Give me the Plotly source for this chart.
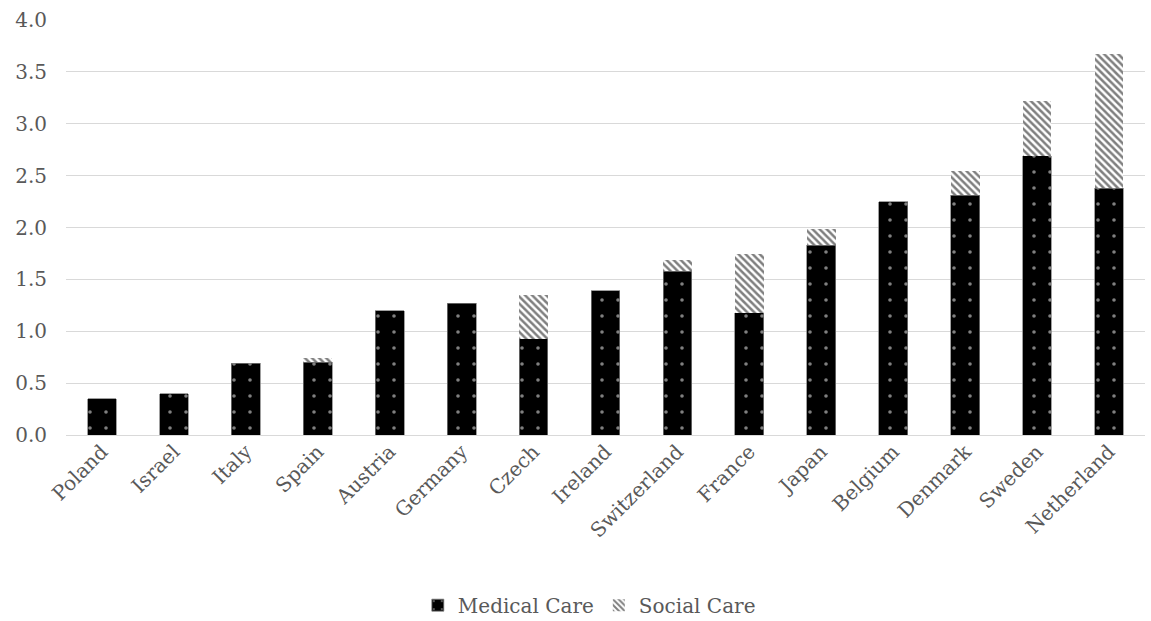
import plotly.graph_objects as go

countries = ["Poland", "Israel", "Italy", "Spain", "Austria", "Germany", "Czech", "Ireland",
             "Switzerland", "France", "Japan", "Belgium", "Denmark", "Sweden", "Netherland"]
medical_care = [0.35, 0.40, 0.69, 0.70, 1.20, 1.27, 0.93, 1.39, 1.58, 1.18, 1.83, 2.25, 2.31, 2.69, 2.38]
social_care = [0.00, 0.00, 0.00, 0.04, 0.00, 0.00, 0.42, 0.00, 0.11, 0.56, 0.16, 0.00, 0.23, 0.53, 1.29]
y_ticks = [0.0, 0.5, 1.0, 1.5, 2.0, 2.5, 3.0, 3.5, 4.0]

FONT = "DejaVu Serif"
TXT = "#595959"

fig = go.Figure()
fig.add_trace(go.Bar(
    x=countries, y=medical_care, name="Medical Care",
    marker=dict(color="black", line=dict(color="#7f7f7f", width=0.75),
                pattern=dict(shape=".", fgcolor="white", bgcolor="black", size=16, solidity=0.04)),
))
fig.add_trace(go.Bar(
    x=countries, y=social_care, name="Social Care",
    marker=dict(color="white", line=dict(color="white", width=0),
                pattern=dict(shape="\\", fgcolor="black", bgcolor="white", size=5, solidity=0.5)),
))

fig.update_layout(
    barmode="stack",
    bargap=0.6,
    width=1151, height=621,
    margin=dict(l=66, r=6, t=20, b=186, autoexpand=False),
    paper_bgcolor="white", plot_bgcolor="white",
    font=dict(family=FONT, size=20, color=TXT),
    showlegend=True,
    legend=dict(orientation="h", x=0.485, xanchor="center", y=-0.41, yanchor="middle",
                font=dict(family=FONT, size=20, color=TXT), itemwidth=30,
                traceorder="normal"),
    xaxis=dict(tickangle=-45, showgrid=False, showline=False, ticks="", automargin=False,
               tickfont=dict(family=FONT, size=20, color=TXT)),
    yaxis=dict(range=[0, 4.0], tickvals=y_ticks, ticktext=[f"{v:.1f}" for v in y_ticks],
               showgrid=True, gridcolor="#d9d9d9", gridwidth=1, zeroline=True,
               zerolinecolor="#d9d9d9", zerolinewidth=1, showline=False, ticks="",
               ticklen=0, ticklabelstandoff=18, automargin=False,
               tickfont=dict(family=FONT, size=20, color=TXT)),
)

fig.write_html("out.html")
